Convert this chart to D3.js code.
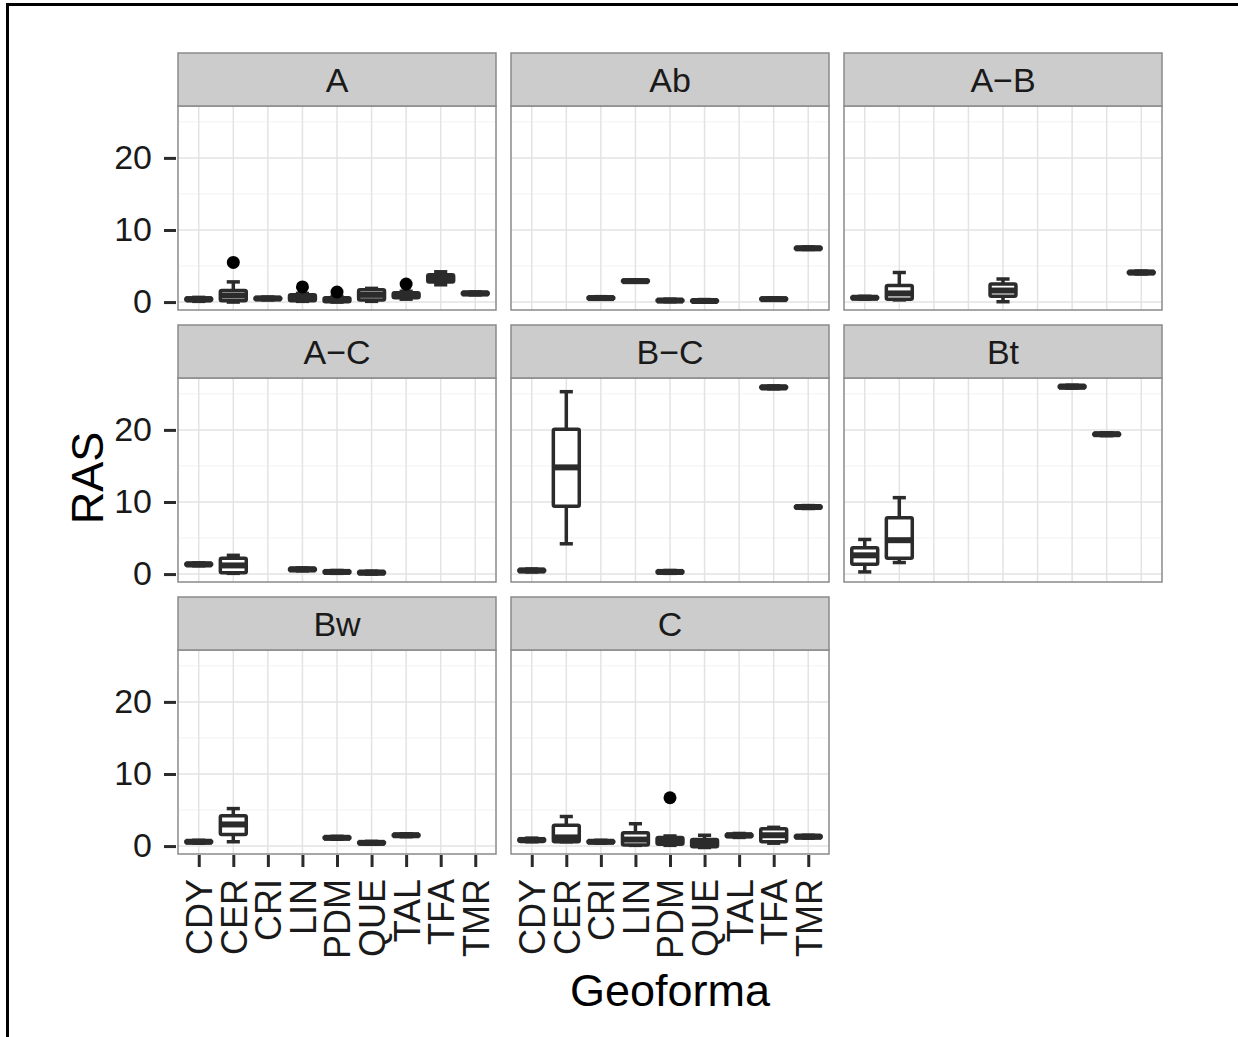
<!DOCTYPE html>
<html>
<head>
<meta charset="utf-8">
<script src="https://cdn.jsdelivr.net/npm/d3@7"></script>
<style>
  html, body { margin: 0; padding: 0; background: #fff; }
  svg { display: block; font-family: "Liberation Sans", Arial, Helvetica, sans-serif; }
</style>
</head>
<body>
<svg id="chart" width="1238" height="1037"></svg>
<script>
// Geomorphic units on the x axis
const geoformas = ["CDY", "CER", "CRI", "LIN", "PDM", "QUE", "TAL", "TFA", "TMR"];
// Soil horizons, one facet each
const horizontes = ["A", "Ab", "A\u2212B", "A\u2212C", "B\u2212C", "Bt", "Bw", "C"];
const yTicks = [0, 10, 20];

// Box statistics per horizon: [geoforma, lower whisker, Q1, median, Q3, upper whisker, outliers]
const rasA = [
  ["CDY", 0.1, 0.2, 0.4, 0.55, 0.65, []],
  ["CER", 0.0, 0.2, 0.9, 1.6, 2.8, [5.5]],
  ["CRI", 0.3, 0.35, 0.5, 0.65, 0.7, []],
  ["LIN", 0.1, 0.2, 0.6, 1.0, 1.2, [2.1]],
  ["PDM", 0.0, 0.05, 0.3, 0.6, 0.8, [1.4]],
  ["QUE", 0.1, 0.3, 1.0, 1.7, 1.9, []],
  ["TAL", 0.4, 0.6, 1.0, 1.3, 1.5, [2.5]],
  ["TFA", 2.4, 2.8, 3.3, 3.8, 4.2, []],
  ["TMR", 1.0, 1.05, 1.2, 1.35, 1.4, []]
];
const rasAb = [
  ["CRI", 0.4, 0.45, 0.55, 0.7, 0.75, []],
  ["LIN", 2.75, 2.8, 2.9, 3.05, 3.1, []],
  ["PDM", 0.05, 0.1, 0.2, 0.35, 0.4, []],
  ["QUE", 0.0, 0.05, 0.15, 0.3, 0.35, []],
  ["TFA", 0.25, 0.3, 0.4, 0.55, 0.6, []],
  ["TMR", 7.3, 7.35, 7.45, 7.6, 7.65, []]
];
const rasAB = [
  ["CDY", 0.4, 0.45, 0.6, 0.75, 0.8, []],
  ["CER", 0.3, 0.4, 1.2, 2.3, 4.1, []],
  ["PDM", 0.05, 0.8, 1.6, 2.5, 3.2, []],
  ["TMR", 3.9, 3.95, 4.1, 4.25, 4.3, []]
];
const rasAC = [
  ["CDY", 1.15, 1.2, 1.35, 1.5, 1.55, []],
  ["CER", 0.1, 0.2, 1.2, 2.2, 2.6, []],
  ["LIN", 0.45, 0.5, 0.65, 0.8, 0.85, []],
  ["PDM", 0.1, 0.15, 0.3, 0.45, 0.5, []],
  ["QUE", 0.0, 0.05, 0.2, 0.35, 0.4, []]
];
const rasBC = [
  ["CDY", 0.3, 0.35, 0.5, 0.65, 0.7, []],
  ["CER", 4.2, 9.4, 14.8, 20.1, 25.3, []],
  ["PDM", 0.1, 0.15, 0.3, 0.45, 0.5, []],
  ["TFA", 25.7, 25.75, 25.9, 26.05, 26.1, []],
  ["TMR", 9.1, 9.15, 9.3, 9.45, 9.5, []]
];
const rasBt = [
  ["CDY", 0.3, 1.35, 2.6, 3.65, 4.8, []],
  ["CER", 1.6, 2.2, 4.7, 7.8, 10.6, []],
  ["TAL", 25.8, 25.85, 26.0, 26.15, 26.2, []],
  ["TFA", 19.2, 19.25, 19.4, 19.55, 19.6, []]
];
const rasBw = [
  ["CDY", 0.4, 0.45, 0.6, 0.75, 0.8, []],
  ["CER", 0.6, 1.6, 3.0, 4.2, 5.2, []],
  ["PDM", 0.95, 1.0, 1.15, 1.3, 1.35, []],
  ["QUE", 0.25, 0.3, 0.45, 0.6, 0.65, []],
  ["TAL", 1.3, 1.35, 1.5, 1.65, 1.7, []]
];
const rasC = [
  ["CDY", 0.6, 0.65, 0.85, 1.0, 1.1, []],
  ["CER", 0.6, 0.6, 1.2, 2.9, 4.1, []],
  ["CRI", 0.4, 0.45, 0.6, 0.75, 0.8, []],
  ["LIN", 0.1, 0.15, 0.9, 1.85, 3.1, []],
  ["PDM", 0.1, 0.25, 0.6, 1.2, 1.4, [6.7]],
  ["QUE", -0.2, -0.1, 0.3, 0.9, 1.5, []],
  ["TAL", 1.2, 1.3, 1.5, 1.65, 1.75, []],
  ["TFA", 0.4, 0.6, 1.5, 2.4, 2.6, []],
  ["TMR", 1.1, 1.15, 1.3, 1.45, 1.5, []]
];
const facetData = [rasA, rasAb, rasAB, rasAC, rasBC, rasBt, rasBw, rasC];

// ---- layout ----
const svg = d3.select("#chart");
const ncol = 3;
const colX = [178, 511, 844];
const panelW = 318;
const stripTop = [53, 325, 597];
const stripH = 53;
const panelH = 204;
const ink = "#2b2b2b";
const fontTick = 34;
const fontX = 36;

// outer frame
svg.append("line").attr("x1", 7).attr("x2", 1238).attr("y1", 4.5).attr("y2", 4.5)
  .attr("stroke", "#000").attr("stroke-width", 3);
svg.append("line").attr("x1", 7.5).attr("x2", 7.5).attr("y1", 3).attr("y2", 1037)
  .attr("stroke", "#000").attr("stroke-width", 3);

horizontes.forEach((h, i) => {
  const col = i % ncol, row = Math.floor(i / ncol);
  const x0 = colX[col];
  const sTop = stripTop[row];
  const pTop = sTop + stripH;
  const pBot = pTop + panelH;

  const x = d3.scalePoint().domain(geoformas).range([x0, x0 + panelW]).padding(0.6);
  const y = d3.scaleLinear().domain([-1.1, 27.2]).range([pBot, pTop]);
  const step = x.step();
  const boxW = step * 0.75;
  const capW = step * 0.38;

  const g = svg.append("g");

  // panel background and grid
  g.append("rect").attr("x", x0).attr("y", pTop).attr("width", panelW).attr("height", panelH)
    .attr("fill", "#fff");
  [5, 15, 25].forEach(v => {
    g.append("line").attr("x1", x0).attr("x2", x0 + panelW).attr("y1", y(v)).attr("y2", y(v))
      .attr("stroke", "#f2f2f2").attr("stroke-width", 1);
  });
  yTicks.forEach(v => {
    g.append("line").attr("x1", x0).attr("x2", x0 + panelW).attr("y1", y(v)).attr("y2", y(v))
      .attr("stroke", "#e3e3e3").attr("stroke-width", 1.5);
  });
  geoformas.forEach(c => {
    g.append("line").attr("x1", x(c)).attr("x2", x(c)).attr("y1", pTop).attr("y2", pBot)
      .attr("stroke", "#e3e3e3").attr("stroke-width", 1.5);
  });

  // boxplots
  const rows = facetData[i];
  rows.forEach(d => {
    const [geo, lo, q1, med, q3, hi, out] = d;
    const cx = x(geo);
    const bx = g.append("g").attr("stroke", ink).attr("stroke-width", 3.5).attr("fill", "none")
      .attr("stroke-linecap", "butt");
    // whiskers with caps
    bx.append("line").attr("x1", cx).attr("x2", cx).attr("y1", y(hi)).attr("y2", y(q3));
    bx.append("line").attr("x1", cx).attr("x2", cx).attr("y1", y(q1)).attr("y2", y(lo));
    bx.append("line").attr("x1", cx - capW / 2).attr("x2", cx + capW / 2).attr("y1", y(hi)).attr("y2", y(hi));
    bx.append("line").attr("x1", cx - capW / 2).attr("x2", cx + capW / 2).attr("y1", y(lo)).attr("y2", y(lo));
    // box
    bx.append("rect").attr("x", cx - boxW / 2).attr("y", y(q3)).attr("width", boxW)
      .attr("height", Math.max(0, y(q1) - y(q3))).attr("fill", "#fff").attr("rx", 1.5);
    // median
    bx.append("line").attr("x1", cx - boxW / 2).attr("x2", cx + boxW / 2)
      .attr("y1", y(med)).attr("y2", y(med)).attr("stroke-width", 6);
    // outliers
    out.forEach(o => {
      g.append("circle").attr("cx", cx).attr("cy", y(o)).attr("r", 6.5).attr("fill", "#000");
    });
  });

  // panel border
  g.append("rect").attr("x", x0).attr("y", pTop).attr("width", panelW).attr("height", panelH)
    .attr("fill", "none").attr("stroke", "#8a8a8a").attr("stroke-width", 1.5);

  // strip
  g.append("rect").attr("x", x0).attr("y", sTop).attr("width", panelW).attr("height", stripH)
    .attr("fill", "#cccccc").attr("stroke", "#8a8a8a").attr("stroke-width", 1.5);
  g.append("text").attr("x", x0 + panelW / 2).attr("y", sTop + stripH / 2 + 12)
    .attr("text-anchor", "middle").attr("font-size", fontTick).attr("fill", "#1a1a1a").text(h);

  // y axis on left column
  if (col === 0) {
    const ya = d3.axisLeft(y).tickValues(yTicks).tickSize(12).tickPadding(12);
    const ag = svg.append("g").attr("transform", `translate(${x0 - 2},0)`).call(ya);
    ag.select(".domain").remove();
    ag.selectAll(".tick line").attr("stroke", ink).attr("stroke-width", 3);
    ag.selectAll(".tick text").attr("font-size", fontTick).attr("fill", "#1a1a1a")
      .attr("font-family", "Liberation Sans, Arial, sans-serif");
  }

  // x axis on bottom panels
  if (row === 2) {
    const xa = d3.axisBottom(x).tickSize(12).tickPadding(6);
    const ag = svg.append("g").attr("transform", `translate(0,${pBot + 1})`).call(xa);
    ag.select(".domain").remove();
    ag.selectAll(".tick line").attr("stroke", ink).attr("stroke-width", 3);
    ag.selectAll(".tick text")
      .attr("font-size", fontX).attr("fill", "#1a1a1a")
      .attr("font-family", "Liberation Sans, Arial, sans-serif")
      .attr("transform", "rotate(-90)")
      .attr("text-anchor", "end")
      .attr("x", -24).attr("y", 0).attr("dy", "0.36em");
  }
});

// axis titles
svg.append("text").attr("x", 670).attr("y", 1006).attr("text-anchor", "middle")
  .attr("font-size", 45).attr("fill", "#000").text("Geoforma");
svg.append("text").attr("transform", "translate(103,478) rotate(-90)").attr("text-anchor", "middle")
  .attr("font-size", 45).attr("fill", "#000").text("RAS");
</script>
</body>
</html>
